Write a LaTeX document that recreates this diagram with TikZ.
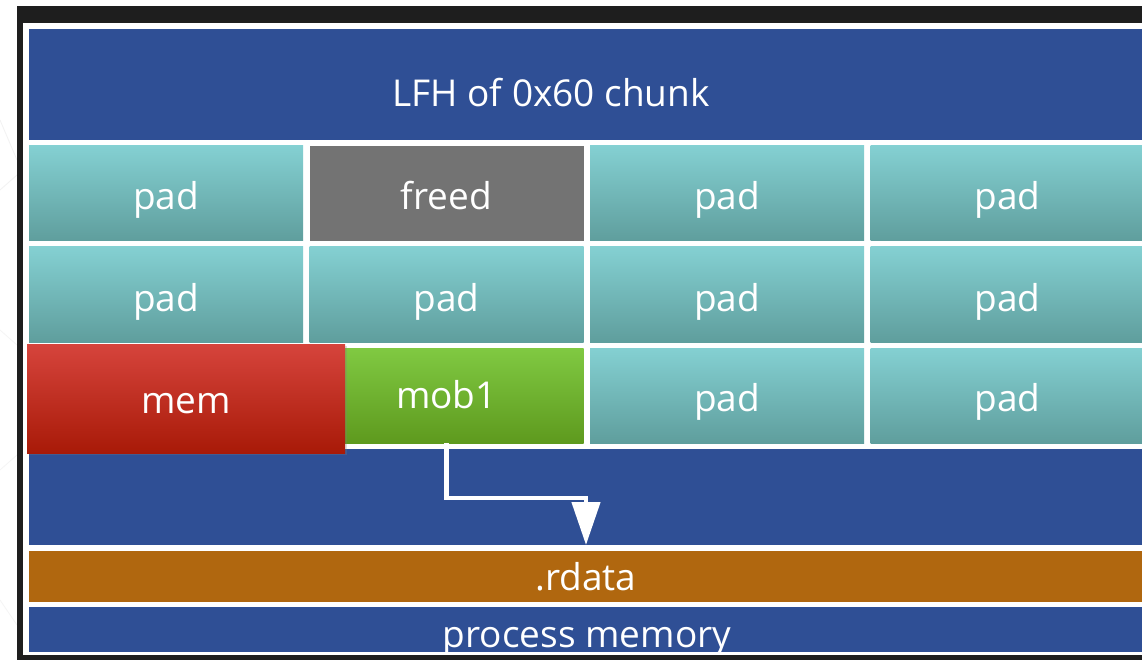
\documentclass[tikz,border=0pt]{standalone}
\usepackage{fontspec}
\setmainfont{Open Sans}
\usetikzlibrary{arrows.meta,shadows}

\definecolor{framedark}{HTML}{1E1E1E}
\definecolor{heapblue}{HTML}{2F4F95}
\definecolor{tealtop}{HTML}{84D0D2}
\definecolor{tealbot}{HTML}{5F9E9D}
\definecolor{freedgray}{HTML}{737373}
\definecolor{redtop}{HTML}{D6443C}
\definecolor{redbot}{HTML}{A81A08}
\definecolor{greentop}{HTML}{80C942}
\definecolor{greenbot}{HTML}{5E9A1E}
\definecolor{rdataorange}{HTML}{B0670F}

\tikzset{
  block/.style={anchor=north west, inner sep=0pt, outer sep=0pt, draw=none},
  bluebox/.style={block, fill=heapblue},
  padbox/.style={block, top color=tealtop, bottom color=tealbot,
                 minimum width=274pt, minimum height=95pt},
  label/.style={anchor=base, text=white, inner sep=0pt,
                font=\fontsize{37}{41}\selectfont},
  flow/.style={draw=white, line width=4.5pt,
               -{Triangle[length=43pt,width=28pt]}},
}

\begin{document}
\begin{tikzpicture}[x=1pt,y=-1pt]
  \useasboundingbox (0,0) rectangle (1142,660);
  \fill[white] (0,0) rectangle (1142,660);

  % faint strokes in the outer margin
  \draw[black!5, line width=0.8pt] (0,120) -- (17,160);
  \draw[black!5, line width=0.8pt] (0,190) -- (17,175);
  \draw[black!4, line width=0.8pt] (0,330) -- (17,345);
  \draw[black!4, line width=0.8pt] (0,470) -- (17,455);
  \draw[black!4, line width=0.8pt] (0,600) -- (17,625);

  % window frame
  \fill[framedark] (17,6) rectangle (1150,660);
  \fill[white] (23,23) rectangle (1150,655);

  % LFH header
  \node[bluebox, minimum width=1114pt, minimum height=111pt] (lfh) at (29,29) {};
  \node[label] (lfht) at (551,107) {LFH of 0x60 chunk};

  % row 1
  \node[padbox] (c11) at (29,146) {};
  \node[block, fill=freedgray, minimum width=274pt, minimum height=95pt] (c12) at (309.5,146) {};
  \node[padbox] (c13) at (590,146) {};
  \node[padbox] (c14) at (870.5,146) {};
  \node[label] (t11) at (c11.center |- 0,210) {pad};
  \node[label] (t12) at (c12.center |- 0,210) {freed};
  \node[label] (t13) at (c13.center |- 0,210) {pad};
  \node[label] (t14) at (c14.center |- 0,210) {pad};

  % row 2
  \node[padbox] (c21) at (29,247) {};
  \node[padbox] (c22) at (309.5,247) {};
  \node[padbox] (c23) at (590,247) {};
  \node[padbox] (c24) at (870.5,247) {};
  \node[label] (t21) at (c21.center |- 0,311) {pad};
  \node[label] (t22) at (c22.center |- 0,311) {pad};
  \node[label] (t23) at (c23.center |- 0,311) {pad};
  \node[label] (t24) at (c24.center |- 0,311) {pad};

  % lower heap area
  \node[bluebox, minimum width=1114pt, minimum height=96pt] (heap) at (29,449) {};

  % row 3
  \node[padbox, top color=greentop, bottom color=greenbot] (mob1) at (309.5,348) {};
  \node[padbox] (c33) at (590,348) {};
  \node[padbox] (c34) at (870.5,348) {};
  \node[label] (t32) at (mob1.center |- 0,408) {mob1};
  \node[label] (t33) at (c33.center |- 0,411) {pad};
  \node[label] (t34) at (c34.center |- 0,411) {pad};

  % overflowing allocation
  \node[block, top color=redtop, bottom color=redbot,
        minimum width=318pt, minimum height=109pt,
        drop shadow={shadow xshift=2pt, shadow yshift=-2pt, opacity=0.25}]
        (mem) at (27,344) {};
  \node[label] (memt) at (mem.center |- 0,413) {mem};

  % .rdata and process memory
  \node[block, fill=rdataorange, minimum width=1114pt, minimum height=51pt] (rdata) at (29,551) {};
  \node[label] (rdatat) at (586,590) {.rdata};
  \node[bluebox, minimum width=1114pt, minimum height=45pt] (proc) at (29,607) {};
  \begin{scope}
    \clip (proc.north west) rectangle (proc.south east);
    \node[label] (proct) at (587,647) {process memory};
  \end{scope}

  % pointer from mob1 into .rdata
  \coordinate (bend) at (rdata.north |- 0,498);
  \draw[flow] (mob1.south) |- (bend) -- ([yshift=6pt]rdata.north);
\end{tikzpicture}
\end{document}
